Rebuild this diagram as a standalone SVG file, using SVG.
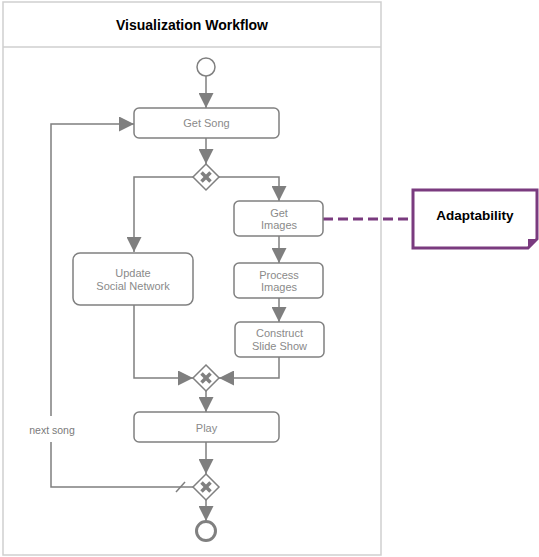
<svg xmlns="http://www.w3.org/2000/svg" width="539" height="557" viewBox="0 0 539 557">
<style>
.pool{fill:#fff;stroke:#cfcfcf;stroke-width:1.5}
.task{fill:#fff;stroke:#808080;stroke-width:1.5}
.tt{font-family:"Liberation Sans",Arial,sans-serif;font-size:11px;fill:#8a8a8a;text-anchor:middle}
.title{font-family:"Liberation Sans",Arial,sans-serif;font-size:14px;font-weight:bold;fill:#000;text-anchor:middle}
.edge{fill:none;stroke:#7f7f7f;stroke-width:1.5}
.gw{fill:#fff;stroke:#808080;stroke-width:1.5}
.gx{stroke:#808080;stroke-width:3.5;stroke-linecap:butt}
.ann{fill:#fff;stroke:#7a3b7f;stroke-width:3}
.assoc{fill:none;stroke:#7a3b7f;stroke-width:3;stroke-dasharray:10 5}
</style>
<defs>
<marker id="ah" markerWidth="15" markerHeight="15" refX="15" refY="7.5" orient="auto" markerUnits="userSpaceOnUse">
<path d="M0,0 L15,7.5 L0,15 Z" fill="#7f7f7f"/>
</marker>
</defs>
<rect width="539" height="557" fill="#fff"/>
<g id="pool">
<rect class="pool" x="3" y="2" width="378" height="553"/>
<line x1="3" y1="47" x2="381" y2="47" stroke="#cfcfcf" stroke-width="1.5"/>
<text class="title" x="192" y="30">Visualization Workflow</text>
</g>
<g id="connectors">
<line class="edge" x1="206" y1="76" x2="206" y2="108" marker-end="url(#ah)"/>
<line class="edge" x1="206" y1="138" x2="206" y2="164" marker-end="url(#ah)"/>
<polyline class="edge" points="193,177 134,177 134,252" marker-end="url(#ah)"/>
<polyline class="edge" points="219,177 279,177 279,201" marker-end="url(#ah)"/>
<line class="edge" x1="279" y1="236" x2="279" y2="263" marker-end="url(#ah)"/>
<line class="edge" x1="279" y1="298" x2="279" y2="322" marker-end="url(#ah)"/>
<polyline class="edge" points="134,305 134,378 193,378" marker-end="url(#ah)"/>
<polyline class="edge" points="279,357 279,378 219,378" marker-end="url(#ah)"/>
<line class="edge" x1="206" y1="391" x2="206" y2="412" marker-end="url(#ah)"/>
<line class="edge" x1="206" y1="442" x2="206" y2="474" marker-end="url(#ah)"/>
<line class="edge" x1="206" y1="500" x2="206" y2="521" marker-end="url(#ah)"/>
<polyline class="edge" points="193,487 51,487 51,124 134,124" marker-end="url(#ah)"/>
<line x1="176" y1="492" x2="185" y2="482" stroke="#7f7f7f" stroke-width="1.5"/>
<rect x="26" y="416" width="54" height="26" fill="#fff"/>
<text x="52" y="434" style="font-family:'Liberation Sans',Arial,sans-serif;font-size:10.5px;fill:#7a7a7a;text-anchor:middle">next song</text>
<line class="assoc" x1="323" y1="219" x2="413" y2="219"/>
</g>
<g id="start"><circle cx="206" cy="67" r="9" fill="#fff" stroke="#808080" stroke-width="1.5"/></g>
<g id="getSong">
<rect class="task" x="134" y="108" width="145" height="30" rx="5"/>
<text class="tt" x="206.5" y="127">Get Song</text>
</g>
<g id="split">
<path class="gw" d="M206,164 L219,177 L206,190 L193,177 Z"/>
<line class="gx" x1="201.5" y1="172.5" x2="210.5" y2="181.5"/>
<line class="gx" x1="210.5" y1="172.5" x2="201.5" y2="181.5"/>
</g>
<g id="updateSocial">
<rect class="task" x="73" y="253" width="120" height="52" rx="7"/>
<text class="tt" x="133" y="277">Update</text>
<text class="tt" x="133" y="290">Social Network</text>
</g>
<g id="getImages">
<rect class="task" x="234" y="201" width="89" height="35" rx="5"/>
<text class="tt" x="279" y="217">Get</text>
<text class="tt" x="279" y="229">Images</text>
</g>
<g id="processImages">
<rect class="task" x="234" y="263" width="89" height="35" rx="5"/>
<text class="tt" x="279" y="279">Process</text>
<text class="tt" x="279" y="291">Images</text>
</g>
<g id="constructSlideShow">
<rect class="task" x="235" y="322" width="89" height="35" rx="5"/>
<text class="tt" x="279.5" y="337">Construct</text>
<text class="tt" x="279.5" y="350">Slide Show</text>
</g>
<g id="merge">
<path class="gw" d="M206,365 L219,378 L206,391 L193,378 Z"/>
<line class="gx" x1="201.5" y1="373.5" x2="210.5" y2="382.5"/>
<line class="gx" x1="210.5" y1="373.5" x2="201.5" y2="382.5"/>
</g>
<g id="play">
<rect class="task" x="134" y="412" width="145" height="30" rx="5"/>
<text class="tt" x="206.5" y="432">Play</text>
</g>
<g id="loopGateway">
<path class="gw" d="M206,474 L219,487 L206,500 L193,487 Z"/>
<line class="gx" x1="201.5" y1="482.5" x2="210.5" y2="491.5"/>
<line class="gx" x1="210.5" y1="482.5" x2="201.5" y2="491.5"/>
</g>
<g id="end"><circle cx="206" cy="531" r="9.5" fill="#fff" stroke="#808080" stroke-width="3"/></g>
<g id="adaptability">
<path class="ann" d="M413,190 H537 V239 L528,248 H413 Z"/>
<path d="M537,239 L528,248 L528,239 Z" fill="#7a3b7f"/>
<text x="475" y="220" style="font-family:'Liberation Sans',Arial,sans-serif;font-size:13.5px;font-weight:bold;fill:#000;text-anchor:middle">Adaptability</text>
</g>
</svg>
